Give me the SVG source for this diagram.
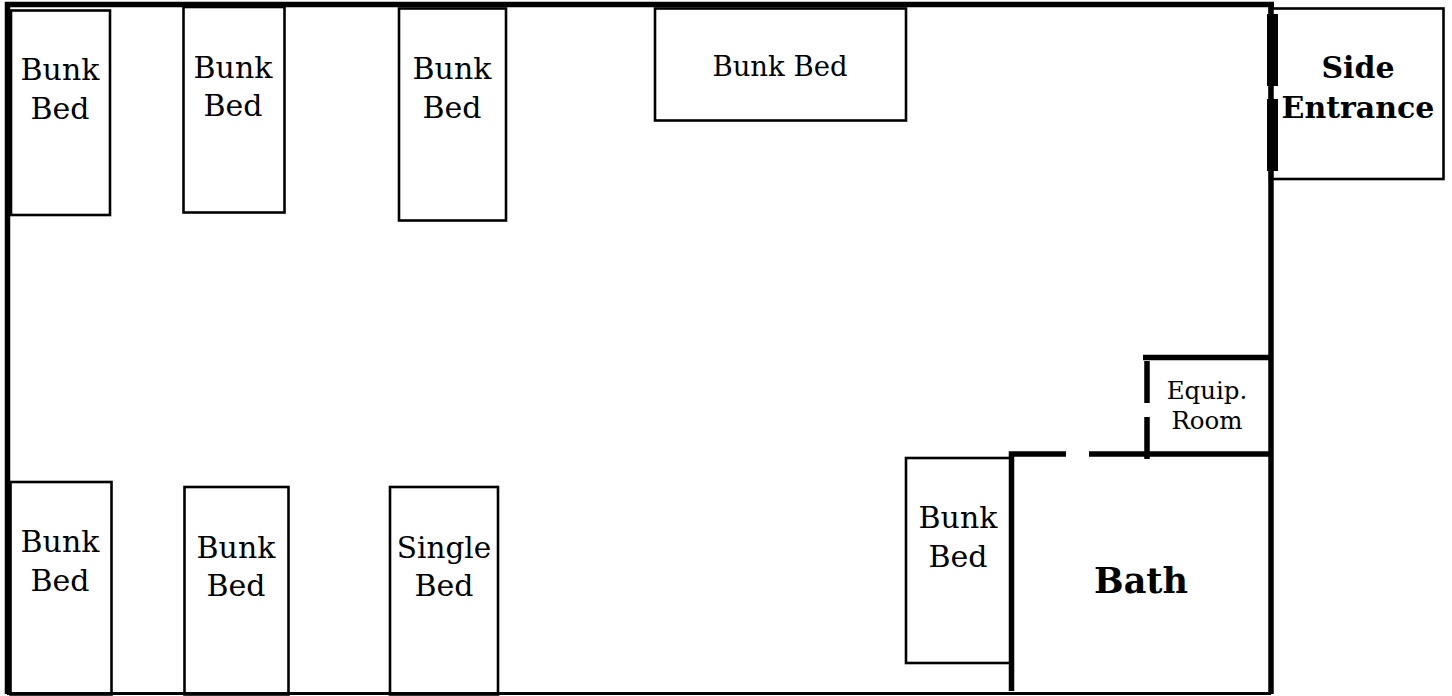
<svg xmlns="http://www.w3.org/2000/svg" width="1452" height="696" viewBox="0 0 1452 696">
<style>
.bed{fill:#fff;stroke:#000;stroke-width:2.600}
.wall{fill:none;stroke:#000;stroke-width:5.500}
.t{font-family:"DejaVu Serif","Liberation Serif",serif;font-size:30px;text-anchor:middle;fill:#000}
.b{font-weight:bold}
.s{font-size:24.500px}
</style>
<rect width="1452" height="696" fill="#fff"/>
<g id="bed1"><rect class="bed" x="11" y="10.500" width="99" height="204.500"/><text class="t" x="60" y="80">Bunk</text><text class="t" x="60" y="118.500">Bed</text></g>
<g id="bed2"><rect class="bed" x="183.500" y="7" width="101" height="205.500"/><text class="t" x="233" y="78">Bunk</text><text class="t" x="233" y="116">Bed</text></g>
<g id="bed3"><rect class="bed" x="399" y="8.500" width="107" height="212"/><text class="t" x="452" y="79">Bunk</text><text class="t" x="452" y="118">Bed</text></g>
<g id="bed4"><rect class="bed" x="655" y="8.500" width="251" height="112"/><text class="t" x="780" y="76" style="font-size:27.500px">Bunk Bed</text></g>
<g id="bed5"><rect class="bed" x="10.500" y="482" width="101" height="212.500"/><text class="t" x="60" y="552">Bunk</text><text class="t" x="60" y="590.500">Bed</text></g>
<g id="bed6"><rect class="bed" x="184.500" y="487" width="104" height="207.500"/><text class="t" x="236" y="558">Bunk</text><text class="t" x="236" y="596">Bed</text></g>
<g id="bed7"><rect class="bed" x="390" y="487" width="108" height="207.500"/><text class="t" x="444" y="558" style="font-size:29.500px">Single</text><text class="t" x="444" y="596">Bed</text></g>
<g id="bed8"><rect class="bed" x="906" y="458" width="106" height="205"/><text class="t" x="958" y="528">Bunk</text><text class="t" x="958" y="567">Bed</text></g>
<g id="side-entrance"><rect class="bed" x="1270" y="8.500" width="173.500" height="170.500"/><text class="t b" x="1358" y="78">Side</text><text class="t b" x="1358" y="118">Entrance</text></g>
<g id="room"><path d="M7.500 2V694" fill="none" stroke="#000" stroke-width="5.500"/><path d="M5 4.500H1274M1271 2V694" fill="none" stroke="#000" stroke-width="5.500"/><path d="M7 693.500H1271" fill="none" stroke="#000" stroke-width="2.800"/>
<path d="M1272.500 14V86M1272.500 99V171" fill="none" stroke="#000" stroke-width="11"/></g>
<g id="bath"><path class="wall" d="M1011.500 691V454H1066M1089 454H1271"/><text class="t b" x="1141" y="593" style="font-size:35px">Bath</text></g>
<g id="equip-room"><path class="wall" d="M1271 357.500H1143M1147 361V403M1147 417V459"/><text class="t s" x="1207" y="399">Equip.</text><text class="t s" x="1207" y="429">Room</text></g>
</svg>
